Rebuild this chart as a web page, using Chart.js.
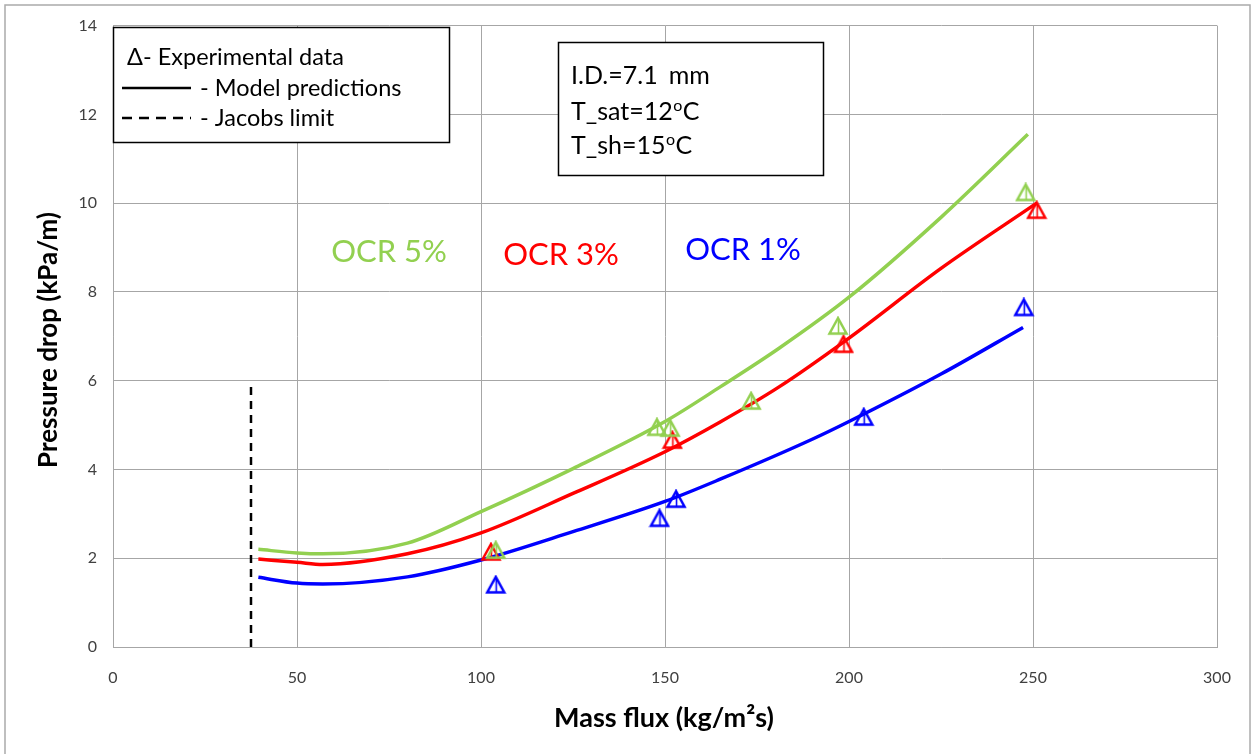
<!DOCTYPE html>
<html>
<head>
<meta charset="utf-8">
<script src="https://cdn.jsdelivr.net/npm/chart.js@4/dist/chart.umd.min.js"></script>
<style>
html,body{margin:0;padding:0;background:#fff;}
#wrap{width:1254px;height:754px;position:relative;}
</style>
</head>
<body>
<div id="wrap"><canvas id="c" width="1254" height="754"></canvas></div>
<script>
// ---- data ----
const xTicks = [0, 50, 100, 150, 200, 250, 300];
const yTicks = [0, 2, 4, 6, 8, 10, 12, 14];

const modelX5 = [39.5, 50, 57, 80, 100, 125, 150, 165, 181, 200, 225, 248.6];
const modelY5 = [2.2, 2.12, 2.1, 2.34, 3.05, 4.02, 5.08, 5.86, 6.73, 7.88, 9.68, 11.55];

const modelX3 = [39.5, 50, 57, 80, 100, 125, 150, 165, 181, 200, 225, 251];
const modelY3 = [1.98, 1.91, 1.86, 2.1, 2.57, 3.46, 4.4, 5.07, 5.86, 6.96, 8.53, 10.0];

const modelX1 = [39.5, 50, 57, 80, 100, 125, 150, 165, 190, 200, 225, 247.3];
const modelY1 = [1.57, 1.44, 1.42, 1.58, 1.96, 2.6, 3.28, 3.78, 4.68, 5.08, 6.15, 7.2];

const expX5 = [104, 147.8, 151.4, 173.4, 197, 248];
const expY5 = [2.18, 4.95, 4.93, 5.54, 7.23, 10.24];

const expX3 = [102.7, 152, 198.5, 251];
const expY3 = [2.14, 4.66, 6.82, 9.84];

const expX1 = [104, 148.5, 153, 204, 247.5];
const expY1 = [1.4, 2.9, 3.33, 5.18, 7.65];

const jacobsX = [37.5, 37.5];
const jacobsY = [0, 5.9];

const seriesLabels = ['OCR 5%', 'OCR 3%', 'OCR 1%'];
const colors = ['#92D050', '#FF0000', '#0000FF'];

// ---- helpers ----
const pts = (xs, ys) => xs.map((x, i) => ({x: x, y: ys[i]}));

function makeTri(color) {
  const c = document.createElement('canvas');
  c.width = 22; c.height = 20;
  const g = c.getContext('2d');
  g.strokeStyle = color;
  g.lineWidth = 2.5;
  g.lineJoin = 'miter';
  g.beginPath();
  g.moveTo(11, 2); g.lineTo(2.5, 17.5); g.lineTo(19.5, 17.5); g.closePath();
  g.stroke();
  g.lineWidth = 1.6;
  g.beginPath();
  g.moveTo(11.5, 4); g.lineTo(11.5, 17.5);
  g.stroke();
  return c;
}

const font = 'Lato, "Open Sans", sans-serif';

const lineDs = (data, color) => ({
  type: 'line', data: data, borderColor: color, borderWidth: 3.5,
  pointRadius: 0, fill: false, cubicInterpolationMode: 'monotone', showLine: true, order: 2
});
const markDs = (data, color) => ({
  type: 'scatter', data: data, pointStyle: makeTri(color), pointRadius: 10,
  showLine: false, order: 1, borderColor: color, backgroundColor: color
});

const annotPlugin = {
  id: 'annot',
  beforeDatasetsDraw(chart) {
    const ctx = chart.ctx;
    ctx.save();
    // legend box
    ctx.fillStyle = '#fff';
    ctx.strokeStyle = '#000';
    ctx.lineWidth = 1.5;
    ctx.fillRect(113, 27, 337, 116);
    ctx.strokeRect(113.5, 27.5, 336, 115);
    ctx.fillStyle = '#000';
    ctx.font = '23.5px ' + font;
    ctx.textBaseline = 'middle';
    ctx.textAlign = 'left';
    ctx.fillText('\u0394- Experimental data', 127, 57);
    ctx.lineWidth = 2.5;
    ctx.beginPath(); ctx.moveTo(122, 88); ctx.lineTo(191, 88); ctx.stroke();
    ctx.fillText('- Model predictions', 200, 88);
    ctx.setLineDash([10, 7]);
    ctx.beginPath(); ctx.moveTo(122, 118); ctx.lineTo(191, 118); ctx.stroke();
    ctx.setLineDash([]);
    ctx.fillText('- Jacobs limit', 200, 118);

    // info box
    ctx.fillStyle = '#fff';
    ctx.fillRect(558, 42, 266, 134);
    ctx.lineWidth = 1.5;
    ctx.strokeRect(558.5, 42.5, 265, 133);
    ctx.fillStyle = '#000';
    ctx.font = '25px ' + font;
    ctx.fillText('I.D.=7.1', 571, 76);
    ctx.fillText('mm', 571 + ctx.measureText('I.D.=7.1').width + 11, 76);
    const supLine = (pre, y) => {
      ctx.font = '25px ' + font;
      ctx.fillText(pre, 571, y);
      let x = 571 + ctx.measureText(pre).width;
      ctx.font = '16px ' + font;
      ctx.fillText('o', x + 0.5, y - 6);
      x += ctx.measureText('o').width + 1;
      ctx.font = '25px ' + font;
      ctx.fillText('C', x, y);
    };
    supLine('T_sat=12', 112);
    supLine('T_sh=15', 146);

    // series labels
    ctx.font = '31px ' + font;
    ctx.textAlign = 'center';
    const lp = [[389, 252], [561, 255], [743, 250]];
    seriesLabels.forEach((s, i) => {
      ctx.fillStyle = colors[i];
      ctx.fillText(s, lp[i][0], lp[i][1]);
    });
    ctx.restore();
  },
  afterDraw(chart) {
    const ctx = chart.ctx;
    ctx.save();
    ctx.fillStyle = '#000';
    ctx.font = 'bold 27px ' + font;
    ctx.textAlign = 'center';
    ctx.textBaseline = 'middle';
    ctx.fillText('Mass flux (kg/m\u00B2s)', 664, 718);
    ctx.font = 'bold 26px ' + font;
    ctx.translate(49, 340);
    ctx.rotate(-Math.PI / 2);
    ctx.fillText('Pressure drop (kPa/m)', 0, 0);
    ctx.restore();
    // outer border
    ctx.save();
    ctx.strokeStyle = '#ababab';
    ctx.lineWidth = 1.5;
    ctx.strokeRect(5, 5, 1245, 760);
    ctx.restore();
  }
};

new Chart(document.getElementById('c'), {
  type: 'scatter',
  data: {
    datasets: [
      markDs(pts(expX5, expY5), colors[0]),
      markDs(pts(expX3, expY3), colors[1]),
      markDs(pts(expX1, expY1), colors[2]),
      lineDs(pts(modelX5, modelY5), colors[0]),
      lineDs(pts(modelX3, modelY3), colors[1]),
      lineDs(pts(modelX1, modelY1), colors[2]),
      {type: 'line', data: pts(jacobsX, jacobsY), borderColor: '#000', borderWidth: 2.5,
       borderDash: [8, 6], pointRadius: 0, showLine: true, order: 3}
    ]
  },
  options: {
    responsive: false,
    animation: false,
    devicePixelRatio: 1,
    layout: {padding: {top: 25, right: 37, left: 0, bottom: 0}},
    plugins: {legend: {display: false}, tooltip: {enabled: false}},
    scales: {
      x: {
        type: 'linear', min: 0, max: 300,
        afterBuildTicks: s => { s.ticks = xTicks.map(v => ({value: v})); },
        afterFit: s => { s.height = 107; },
        grid: {color: '#a6a6a6', lineWidth: 1, drawTicks: false},
        border: {color: '#a6a6a6', width: 1},
        ticks: {padding: 21, color: '#404040', font: {family: font, size: 16}, maxRotation: 0}
      },
      y: {
        type: 'linear', min: 0, max: 14,
        afterBuildTicks: s => { s.ticks = yTicks.map(v => ({value: v})); },
        afterFit: s => { s.width = 113; },
        grid: {color: '#a6a6a6', lineWidth: 1, drawTicks: false},
        border: {color: '#a6a6a6', width: 1},
        ticks: {padding: 16, color: '#404040', font: {family: font, size: 16}}
      }
    }
  },
  plugins: [annotPlugin]
});
</script>
</body>
</html>
